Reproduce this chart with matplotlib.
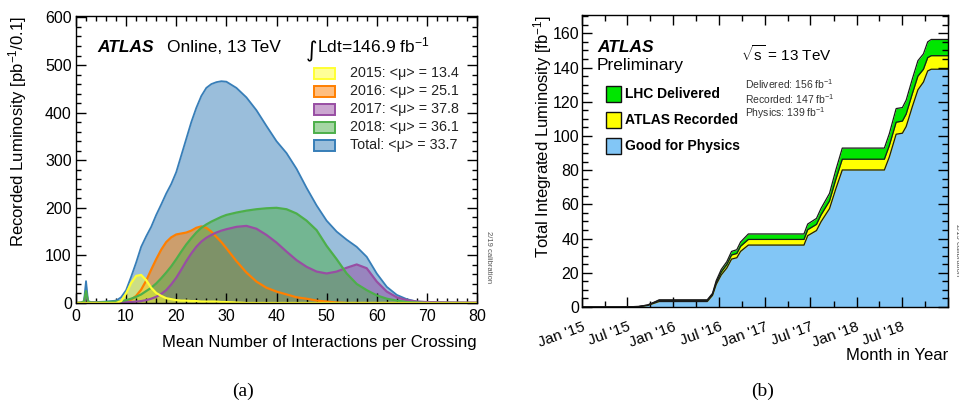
import matplotlib
matplotlib.use("Agg")
import matplotlib.pyplot as plt
import matplotlib.dates as mdates
from matplotlib.patches import Rectangle
from matplotlib.ticker import MultipleLocator, FixedLocator
from datetime import datetime

plt.rcParams['font.family'] = ['Liberation Sans', 'DejaVu Sans']
plt.rcParams['mathtext.fontset'] = 'custom'
plt.rcParams['mathtext.rm'] = 'Liberation Sans'
plt.rcParams['mathtext.it'] = 'Liberation Sans:italic'
plt.rcParams['mathtext.bf'] = 'Liberation Sans:bold'

W, H = 959, 404

# ---------------- (a) pile-up distribution ----------------
mu = [0, 1, 1.6, 2, 2.4, 3, 4, 6, 8,
      9, 10, 11, 12, 13, 14, 15, 16, 17, 18, 19, 20, 21, 22, 23, 24, 25, 26, 27, 28, 29, 30,
      32, 34, 36, 38, 40, 42, 44, 46, 48, 50, 52, 54, 56, 58, 60, 62, 64, 66, 68, 70,
      75, 80]
lumi_total = [0, 1, 4, 46, 4, 2, 2, 3, 5,
              12, 27, 55, 85, 118, 140, 160, 185, 207, 230, 250, 275, 310, 345, 380, 410, 435, 452, 460, 464, 466, 465,
              452, 432, 405, 372, 340, 315, 282, 242, 205, 173, 150, 133, 118, 97, 62, 34, 17, 8, 3, 2,
              1, 0]
lumi_2018 = [0, 1, 3, 25, 3, 1, 1, 2, 3,
             4, 6, 9, 13, 18, 25, 32, 41, 52, 64, 77, 92, 108, 123, 136, 148, 158, 165, 171, 176, 181, 185,
             190, 194, 197, 199, 200, 197, 188, 173, 153, 120, 92, 62, 40, 27, 16, 9, 5, 2, 1, 0,
             0, 0]
lumi_2017 = [0, 0, 2, 20, 2, 1, 1, 1, 1,
             1, 2, 2, 3, 4, 6, 9, 13, 19, 27, 39, 53, 70, 88, 104, 118, 129, 137, 143, 148, 152, 155,
             160, 162, 156, 143, 127, 108, 90, 76, 66, 62, 66, 74, 81, 73, 45, 24, 12, 6, 3, 2,
             1, 1]
lumi_2016 = [0, 0, 0, 0, 0, 0, 0, 0, 0,
             1, 3, 7, 15, 28, 47, 70, 92, 112, 128, 138, 144, 146, 148, 152, 158, 161, 158, 150, 139, 128, 115,
             88, 64, 45, 32, 24, 18, 12, 9, 5, 3, 1, 0, 0, 0, 0, 0, 0, 0, 0, 0,
             0, 0]
lumi_2015 = [0, 0, 0, 0, 0, 0, 0, 0, 0,
             4, 20, 42, 57, 59, 48, 32, 21, 15, 10, 8, 6, 5, 5, 4, 4, 3, 3, 3, 3, 2, 2,
             1, 0, 0, 0, 0, 0, 0, 0, 0, 0, 0, 0, 0, 0, 0, 0, 0, 0, 0, 0,
             0, 0]
legend_labels_a = ["2015: <\u03bc> = 13.4", "2016: <\u03bc> = 25.1", "2017: <\u03bc> = 37.8",
                   "2018: <\u03bc> = 36.1", "Total: <\u03bc> = 33.7"]

# ---------------- (b) cumulative luminosity ----------------
run_dates = ["2015-01-01", "2015-06-01", "2015-08-15", "2015-09-20", "2015-10-20", "2015-11-05",
             "2016-05-15", "2016-06-05", "2016-06-20", "2016-07-10", "2016-08-01", "2016-08-20",
             "2016-09-10", "2016-09-25", "2016-10-26", "2017-06-05", "2017-06-20", "2017-07-25",
             "2017-08-12", "2017-09-15", "2017-10-10", "2017-11-05", "2018-04-22", "2018-05-12",
             "2018-06-08", "2018-07-03", "2018-07-18", "2018-08-12", "2018-09-03", "2018-09-25",
             "2018-10-12", "2018-10-26", "2019-01-01"]
delivered = [0, 0, 0.3, 1.2, 3.1, 4.2,
             4.2, 8.0, 15.5, 22.0, 26.5, 32.5,
             33.5, 38.0, 42.7, 42.7, 48.5, 51.8,
             57.6, 66.4, 80.0, 92.9, 92.9, 101.4,
             116.0, 116.6, 120.9, 133.5, 144.0, 148.0,
             155.0, 156.4, 156.4]
recorded = [0, 0, 0.3, 1.1, 2.9, 3.9,
            3.9, 7.5, 14.5, 20.5, 24.8, 30.4,
            31.3, 35.5, 39.5, 39.5, 45.2, 48.3,
            53.8, 62.0, 74.5, 86.4, 86.4, 94.5,
            108.0, 108.7, 112.8, 124.9, 135.0, 139.0,
            145.8, 146.9, 146.9]
good_physics = [0, 0, 0.2, 0.9, 2.4, 3.2,
                3.2, 6.8, 13.3, 18.8, 22.8, 28.0,
                28.8, 32.5, 36.2, 36.2, 41.7, 44.7,
                49.8, 57.5, 69.0, 80.1, 80.1, 87.8,
                101.0, 101.6, 105.5, 117.3, 127.0, 131.5,
                138.0, 139.0, 139.0]
month_labels = ["Jan '15", "Jul '15", "Jan '16", "Jul '16", "Jan '17", "Jul '17", "Jan '18", "Jul '18"]
legend_labels_b = ["LHC Delivered", "ATLAS Recorded", "Good for Physics"]

fig = plt.figure(figsize=(W / 100, H / 100), dpi=100)


def fx(x):
    return x / W


def fy(y):
    return 1 - y / H


def pbox(l, t, r, b):
    return [fx(l), fy(b), fx(r) - fx(l), fy(t) - fy(b)]


def style_axes(ax, major_len, minor_len):
    for s in ax.spines.values():
        s.set_linewidth(1.0)
        s.set_color('black')
    ax.tick_params(which='both', direction='in', top=True, right=True,
                   width=1.0, colors='black', labelsize=11.5)
    ax.tick_params(which='major', length=major_len)
    ax.tick_params(which='minor', length=minor_len)


# ---- panel (a)
axa = fig.add_axes(pbox(76, 16, 477, 303))
c_blue, c_green, c_purple, c_orange, c_yellow = '#377eb8', '#4daf4a', '#984ea3', '#ff7f00', '#ffff33'
series = [(lumi_total, c_blue, 1.3), (lumi_2016, c_orange, 1.6), (lumi_2017, c_purple, 1.6),
          (lumi_2018, c_green, 1.6), (lumi_2015, c_yellow, 1.6)]
for vals, col, lw in series:
    axa.fill_between(mu, 0, vals, color=col, alpha=0.5, linewidth=0)
for vals, col, lw in series:
    axa.plot(mu, vals, color=col, lw=lw, solid_joinstyle='round')
axa.set_xlim(0, 80)
axa.set_ylim(0, 603)
axa.xaxis.set_major_locator(MultipleLocator(10))
axa.xaxis.set_minor_locator(MultipleLocator(2))
axa.yaxis.set_major_locator(MultipleLocator(100))
axa.yaxis.set_minor_locator(MultipleLocator(20))
style_axes(axa, 7, 3.5)
axa.tick_params(axis='y', pad=3)
axa.tick_params(axis='x', pad=4)

fig.text(fx(97), fy(52), "ATLAS", fontsize=12.5, fontweight='bold', fontstyle='italic', va='baseline')
fig.text(fx(167), fy(52), "Online, 13 TeV", fontsize=12.5, va='baseline')
fig.text(fx(317), fy(57), "\u222b", fontsize=16, ha='right', va='baseline', family=['DejaVu Sans'])
fig.text(fx(317), fy(52), "Ldt=146.9 fb$^{-1}$", fontsize=12.5, va='baseline')

leg_cols = [c_yellow, c_orange, c_purple, c_green, c_blue]
for i, (lab, col) in enumerate(zip(legend_labels_a, leg_cols)):
    yc = 73.5 + 18 * i
    fig.patches.append(Rectangle((fx(314), fy(yc + 5.5)), fx(21), 11 / H, transform=fig.transFigure,
                                 facecolor=col, alpha=0.5, edgecolor='none'))
    fig.patches.append(Rectangle((fx(314), fy(yc + 5.5)), fx(21), 11 / H, transform=fig.transFigure,
                                 facecolor='none', edgecolor=col, lw=1.4))
    fig.text(fx(350), fy(yc), lab, fontsize=10.3, va='center', color='#222222')

fig.text(fx(18), fy(16), "Recorded Luminosity [pb$^{-1}$/0.1]", rotation=90,
         ha='center', va='top', fontsize=12)
fig.text(fx(477), fy(343), "Mean Number of Interactions per Crossing", ha='right', va='center', fontsize=12)
fig.text(fx(488), fy(257), "2/19 calibration", rotation=-90, ha='center', va='center',
         fontsize=5.5, color='#555555')
fig.text(fx(243), fy(391), "(a)", ha='center', va='center', fontsize=14, family=['Liberation Serif'])

# ---- panel (b)
axb = fig.add_axes(pbox(582, 15, 948, 307))
dnum = [mdates.date2num(datetime.strptime(d, "%Y-%m-%d")) for d in run_dates]
layers = [(delivered, '#00e600'), (recorded, '#ffff00'), (good_physics, '#82c6f6')]
for vals, col in layers:
    axb.fill_between(dnum, 0, vals, color=col, linewidth=0)
    axb.plot(dnum, vals, color='#1a1a1a', lw=0.9)
axb.set_xlim(mdates.date2num(datetime(2015, 1, 1)), mdates.date2num(datetime(2019, 1, 1)))
axb.set_ylim(0, 170.7)
major_dates = [mdates.date2num(datetime(2015 + k // 2, 1 + 6 * (k % 2), 1)) for k in range(9)]
minor_dates = [mdates.date2num(datetime(2015 + k // 4, 1 + 3 * (k % 4), 1)) for k in range(17)]
axb.xaxis.set_major_locator(FixedLocator(major_dates))
axb.xaxis.set_minor_locator(FixedLocator(minor_dates))
axb.set_xticklabels(month_labels + [""])
axb.yaxis.set_major_locator(MultipleLocator(20))
axb.yaxis.set_minor_locator(MultipleLocator(5))
style_axes(axb, 7.5, 4)
axb.tick_params(axis='y', pad=2)
for lab in axb.get_xticklabels():
    lab.set_rotation(20)
    lab.set_ha('right')
    lab.set_rotation_mode('anchor')
    lab.set_fontsize(11)
axb.tick_params(axis='x', pad=9)

fig.text(fx(597), fy(52), "ATLAS", fontsize=12.5, fontweight='bold', fontstyle='italic', va='baseline')
fig.text(fx(597), fy(70), "Preliminary", fontsize=12.5, va='baseline')
fig.text(fx(741), fy(54), r"$\sqrt{\mathrm{s}}$ = 13 TeV", fontsize=11, va='center')
for i, t in enumerate(["Delivered: 156 fb$^{-1}$", "Recorded: 147 fb$^{-1}$", "Physics: 139 fb$^{-1}$"]):
    fig.text(fx(745), fy(84 + 14.6 * i), t, fontsize=7.5, va='center', color='#333333')
for i, (lab, (vals, col)) in enumerate(zip(legend_labels_b, layers)):
    yc = 94 + 25.8 * i
    fig.patches.append(Rectangle((fx(606), fy(yc + 8)), fx(15), 16 / H, transform=fig.transFigure,
                                 facecolor=col, edgecolor='#111111', lw=1.0))
    fig.text(fx(625), fy(yc), lab, fontsize=10, fontweight='bold', va='center')

fig.text(fx(543), fy(15), "Total Integrated Luminosity [fb$^{-1}$]", rotation=90,
         ha='center', va='top', fontsize=12)
fig.text(fx(948), fy(355), "Month in Year", ha='right', va='center', fontsize=12)
fig.text(fx(957), fy(250), "2/19 calibration", rotation=-90, ha='center', va='center',
         fontsize=5.5, color='#555555')
fig.text(fx(763), fy(391), "(b)", ha='center', va='center', fontsize=14, family=['Liberation Serif'])

fig.savefig("out.png", dpi=100)
